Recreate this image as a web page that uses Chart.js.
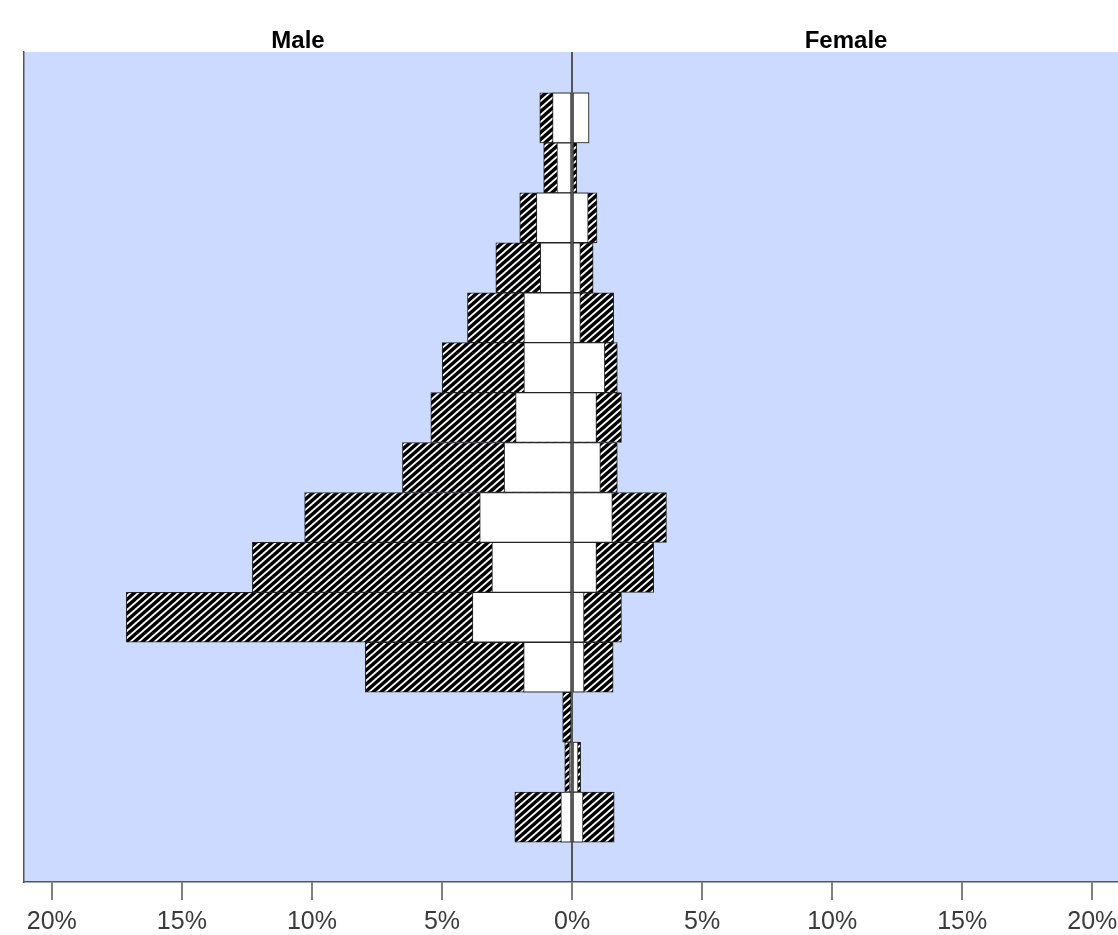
<!DOCTYPE html>
<html>
<head>
<meta charset="utf-8">
<script src="https://cdn.jsdelivr.net/npm/chart.js@4.4.1/dist/chart.umd.min.js"></script>
<style>
  html, body { margin: 0; padding: 0; background: #fff; overflow: hidden; }
  #wrap { width: 1118px; height: 935px; }
</style>
</head>
<body>
<div id="wrap"><canvas id="piramide" width="1118" height="935"></canvas></div>
<script>
// rows from top to bottom (positions on the vertical axis), values in percent
const rows = [0, 1, 2, 3, 4, 5, 6, 7, 8, 9, 10, 11, 12, 13, 14];
const maleTotal   = [1.24, 1.09, 2.01, 2.93, 4.02, 4.99, 5.43, 6.52, 10.28, 12.29, 17.14, 7.95, 0.36, 0.28, 2.20];
const maleInner   = [0.75, 0.58, 1.37, 1.22, 1.85, 1.85, 2.17, 2.61, 3.55, 3.08, 3.83, 1.86, 0, 0.11, 0.43];
const femaleInner = [0.65, 0.03, 0.62, 0.32, 0.32, 1.26, 0.94, 1.09, 1.55, 0.94, 0.46, 0.46, 0, 0.23, 0.42];
const femaleTotal = [0.65, 0.18, 0.96, 0.81, 1.60, 1.74, 1.90, 1.74, 3.63, 3.14, 1.90, 1.58, 0, 0.33, 1.62];
const sideTitles = ['Male', 'Female'];

const FONT = '"Liberation Sans", Arial, sans-serif';

function hatchPattern(ctx) {
    // black tile with a thin white "/" line, tiles seamlessly
    const w = 8, h = 7;
    let c = document.createElement('canvas');
    c.width = w;
    c.height = h;
    let g = c.getContext('2d');
    g.fillStyle = '#000';
    g.fillRect(0, 0, w, h);
    g.strokeStyle = '#fff';
    g.lineWidth = 1.8;
    g.beginPath();
    for (let k = -1; k <= 1; k++) {
        g.moveTo(k * w - w, 2 * h);
        g.lineTo(k * w + 2 * w, -h);
    }
    g.stroke();
    return ctx.createPattern(c, 'repeat');
}

function points(values, sign) {
    return values.map((v, i) => ({ x: sign * v, y: rows[i] }));
}

const plotBackground = {
    id: 'plotBackground',
    beforeDraw(chart) {
        const {ctx, chartArea} = chart;
        ctx.save();
        ctx.fillStyle = '#ccdaff';
        ctx.fillRect(chartArea.left, chartArea.top, chartArea.right - chartArea.left, chartArea.bottom - chartArea.top);
        ctx.restore();
    }
};

const halfTitles = {
    id: 'halfTitles',
    afterDraw(chart) {
        const {ctx, chartArea} = chart;
        const zero = chart.scales.x.getPixelForValue(0);
        const half = zero - chartArea.left;
        ctx.save();
        ctx.fillStyle = '#000';
        ctx.font = 'bold 24px ' + FONT;
        ctx.textAlign = 'center';
        ctx.textBaseline = 'alphabetic';
        ctx.fillText(sideTitles[0], zero - half / 2, 47.5);
        ctx.fillText(sideTitles[1], zero + half / 2, 47.5);
        ctx.restore();
    }
};

let canvas = document.getElementById('piramide');
let ctx = canvas.getContext('2d');
const hatch = hatchPattern(ctx);

const barStyle = {
    borderColor: '#222',
    borderWidth: 1,
    borderSkipped: false,
    grouped: false,
    barPercentage: 1,
    categoryPercentage: 1
};

const data = {
    datasets: [
        Object.assign({ label: 'Male inner', data: points(maleInner, -1), backgroundColor: '#fff' }, barStyle),
        Object.assign({ label: 'Female inner', data: points(femaleInner, 1), backgroundColor: '#fff' }, barStyle),
        Object.assign({ label: sideTitles[0], data: points(maleTotal, -1), backgroundColor: hatch }, barStyle),
        Object.assign({ label: sideTitles[1], data: points(femaleTotal, 1), backgroundColor: hatch }, barStyle)
    ]
};

const config = {
    type: 'bar',
    data: data,
    plugins: [plotBackground, halfTitles],
    options: {
        responsive: false,
        indexAxis: 'y',
        animation: false,
        layout: {
            padding: { left: 24, right: 0, top: 52, bottom: 0 }
        },
        plugins: {
            legend: false,
            tooltip: false,
            title: false
        },
        scales: {
            x: {
                type: 'linear',
                min: -21.07,
                max: 20.99,
                afterFit: function(scale) {
                    scale.height = 53;
                    // keep the plot edge where it is, labels fit anyway
                    scale.paddingLeft = 0;
                    scale.paddingRight = 0;
                },
                border: { display: true, color: '#555', width: 1.5, z: 2 },
                grid: {
                    z: 1,
                    drawOnChartArea: true,
                    color: function(c) {
                        return c.tick && c.tick.value === 0 ? '#555' : 'rgba(0,0,0,0)';
                    },
                    lineWidth: 2,
                    tickLength: 18,
                    tickColor: '#555',
                    tickWidth: 1.5
                },
                ticks: {
                    z: 2,
                    stepSize: 5,
                    includeBounds: false,
                    autoSkip: false,
                    maxRotation: 0,
                    padding: 7,
                    color: '#3a3a3a',
                    font: { family: FONT, size: 25 },
                    callback: function(v) { return Math.abs(v) + '%'; }
                }
            },
            y: {
                type: 'linear',
                reverse: true,
                offset: false,
                min: -1.32,
                max: 15.3,
                border: { display: true, color: '#555', width: 1.5 },
                grid: { display: false, drawTicks: false, offset: false },
                ticks: { display: false }
            }
        }
    }
};

new Chart(ctx, config);
</script>
</body>
</html>
